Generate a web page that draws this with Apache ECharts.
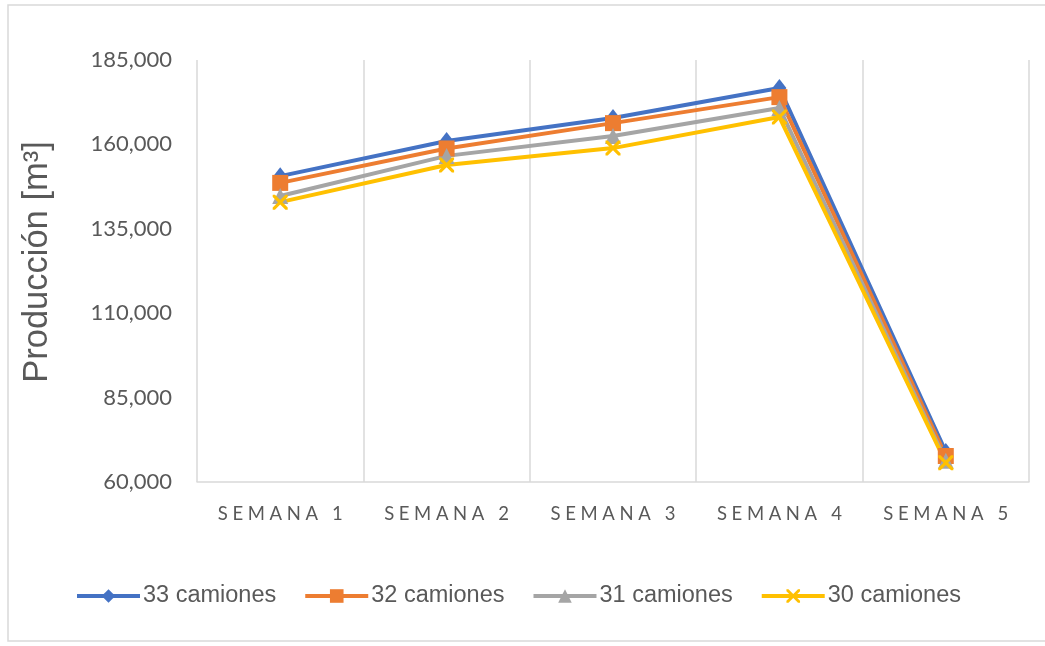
<!DOCTYPE html>
<html>
<head>
<meta charset="utf-8">
<script src="https://cdn.jsdelivr.net/npm/echarts@6/dist/echarts.min.js"></script>
<style>
  html, body { margin: 0; padding: 0; background: #fff; }
  #main { width: 1045px; height: 646px; }
</style>
</head>
<body>
<div id="main"></div>
<script>
// data
var semanas = ['SEMANA 1', 'SEMANA 2', 'SEMANA 3', 'SEMANA 4', 'SEMANA 5'];
var camiones33 = [150600, 161000, 167800, 176700, 68900];
var camiones32 = [148600, 158800, 166300, 174000, 67700];
var camiones31 = [144700, 156600, 162500, 170800, 66300];
var camiones30 = [142900, 153900, 158900, 168100, 65700];
var nombres = ['33 camiones', '32 camiones', '31 camiones', '30 camiones'];

var xPath = 'path://M0,0 L3,0 L10,7 L17,0 L20,0 L20,3 L13,10 L20,17 L20,20 L17,20 L10,13 L3,20 L0,20 L0,17 L7,10 L0,3Z';

function serie(name, data, color, symbol, size) {
    return {
        name: name,
        type: 'line',
        data: data,
        symbol: symbol,
        symbolSize: size,
        lineStyle: { color: color, width: 4 },
        itemStyle: { color: color },
        emphasis: { disabled: true }
    };
}

var myChart = echarts.init(document.getElementById('main'));

var option = {
    animation: false,
    graphic: [{
        type: 'rect',
        shape: { x: 8, y: 5, width: 1050, height: 636 },
        style: { fill: 'none', stroke: '#d9d9d9', lineWidth: 1.5 },
        silent: true
    }],
    grid: { left: 197, right: 16, top: 60, bottom: 164 },
    legend: {
        data: nombres,
        left: 75,
        top: 584,
        padding: 0,
        itemWidth: 63,
        itemHeight: 17,
        itemGap: 27,
        lineStyle: { width: 4 },
        textStyle: { fontFamily: 'Liberation Sans', fontSize: 23.5, color: '#595959', padding: [0, 0, 0, -2] }
    },
    xAxis: {
        type: 'category',
        data: semanas,
        boundaryGap: true,
        axisLine: { show: true, lineStyle: { color: '#d9d9d9', width: 1.5 } },
        axisTick: { show: false },
        splitLine: { show: true, interval: 0, lineStyle: { color: '#d9d9d9', width: 1.5 } },
        axisLabel: {
            interval: 0,
            margin: 23,
            fontFamily: 'Lato',
            fontSize: 18.5,
            color: '#595959',
            formatter: function (v) { return v.split('').join('\u2005'); }
        }
    },
    yAxis: {
        type: 'value',
        min: 60000,
        max: 185000,
        interval: 25000,
        name: 'Producción [m³]',
        nameLocation: 'middle',
        nameGap: 142,
        nameTextStyle: { fontFamily: 'Liberation Sans', fontSize: 34.5, color: '#595959', padding: [0, 0, 0, 18] },
        axisLine: { show: false },
        axisTick: { show: false },
        splitLine: { show: false },
        axisLabel: {
            margin: 25,
            fontFamily: 'Lato',
            fontSize: 22,
            color: '#595959',
            formatter: function (v) { return v.toLocaleString('en-US'); }
        }
    },
    series: [
        serie(nombres[0], camiones33, '#4472C4', 'diamond', [14, 18]),
        serie(nombres[1], camiones32, '#ED7D31', 'rect', 16),
        serie(nombres[2], camiones31, '#A5A5A5', 'triangle', 16),
        serie(nombres[3], camiones30, '#FFC000', xPath, 15)
    ]
};

myChart.setOption(option);
</script>
</body>
</html>
